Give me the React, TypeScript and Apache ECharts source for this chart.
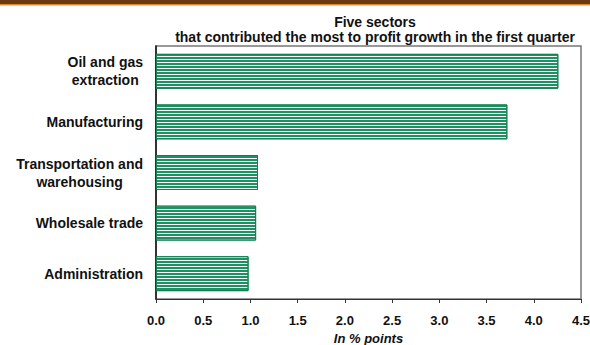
import React, { useEffect, useRef } from "react";
import * as echarts from "echarts";

const categories = [
  "Oil and gas\nextraction",
  "Manufacturing",
  "Transportation and\nwarehousing",
  "Wholesale trade",
  "Administration",
];
const values = [4.26, 3.72, 1.08, 1.06, 0.98];
const xTicks = { min: 0, max: 4.5, interval: 0.5 };
const titleText = "Five sectors\nthat contributed the most to profit growth in the first quarter";
const xAxisName = "In % points";

export default function App() {
  const ref = useRef<HTMLDivElement>(null);
  useEffect(() => {
    document.body.style.margin = "0";
    const chart = echarts.init(ref.current!, undefined, { renderer: "svg" });
    const font = "Liberation Sans, Arial, sans-serif";
    chart.setOption({
      animation: false,
      backgroundColor: "#ffffff",
      textStyle: { fontFamily: font },
      title: {
        text: titleText,
        left: 370,
        top: 9,
        textAlign: "center",
        textStyle: { fontSize: 14, fontWeight: "bold", color: "#111", lineHeight: 15, fontFamily: font },
      },
      graphic: [
        { type: "rect", shape: { x: 0, y: 0, width: 590, height: 4 }, style: { fill: "#6a3a10" } },
        { type: "rect", shape: { x: 0, y: 4, width: 590, height: 1.5 }, style: { fill: "#e38a2c" } },
      ],
      grid: {
        left: 156,
        right: 9,
        top: 46,
        bottom: 46,
        show: true,
        borderColor: "#777",
        borderWidth: 1.5,
        containLabel: false,
        outerBoundsMode: "none",
      },
      xAxis: {
        type: "value",
        min: xTicks.min,
        max: xTicks.max,
        interval: xTicks.interval,
        splitLine: { show: false },
        axisLine: { show: true, lineStyle: { color: "#333", width: 1 } },
        axisTick: { show: true, length: 4, lineStyle: { color: "#333" } },
        axisLabel: {
          formatter: (v: number) => v.toFixed(1),
          fontSize: 13,
          fontWeight: "bold",
          color: "#111",
          margin: 15,
          fontFamily: font,
        },
        name: xAxisName,
        nameLocation: "middle",
        nameGap: 32,
        nameTextStyle: { fontSize: 13, fontWeight: "bold", fontStyle: "italic", color: "#111", fontFamily: font },
      },
      yAxis: {
        type: "category",
        data: categories,
        inverse: true,
        axisLine: { show: true, lineStyle: { color: "#111", width: 1.5 } },
        axisTick: { show: false },
        axisLabel: {
          margin: 13,
          align: "right",
          formatter: (v: string) => v.split("\n").map((l) => `{c|${l}}`).join("\n"),
          rich: {
            c: { align: "center", fontSize: 14, fontWeight: "bold", color: "#111", lineHeight: 18, fontFamily: font },
          },
        },
      },
      series: [
        {
          type: "bar",
          data: values,
          barCategoryGap: "31%",
          itemStyle: {
            color: "#ffffff",
            borderColor: "#12804f",
            borderWidth: 1,
            decal: {
              symbol: "rect",
              color: "#1f9064",
              dashArrayX: [1, 0],
              dashArrayY: [1.4, 1],
              symbolSize: 1,
              rotation: 0,
            },
          },
        },
      ],
    });
    return () => chart.dispose();
  }, []);
  return <div ref={ref} style={{ width: 590, height: 345, position: "absolute", left: 0, top: 0 }} />;
}
